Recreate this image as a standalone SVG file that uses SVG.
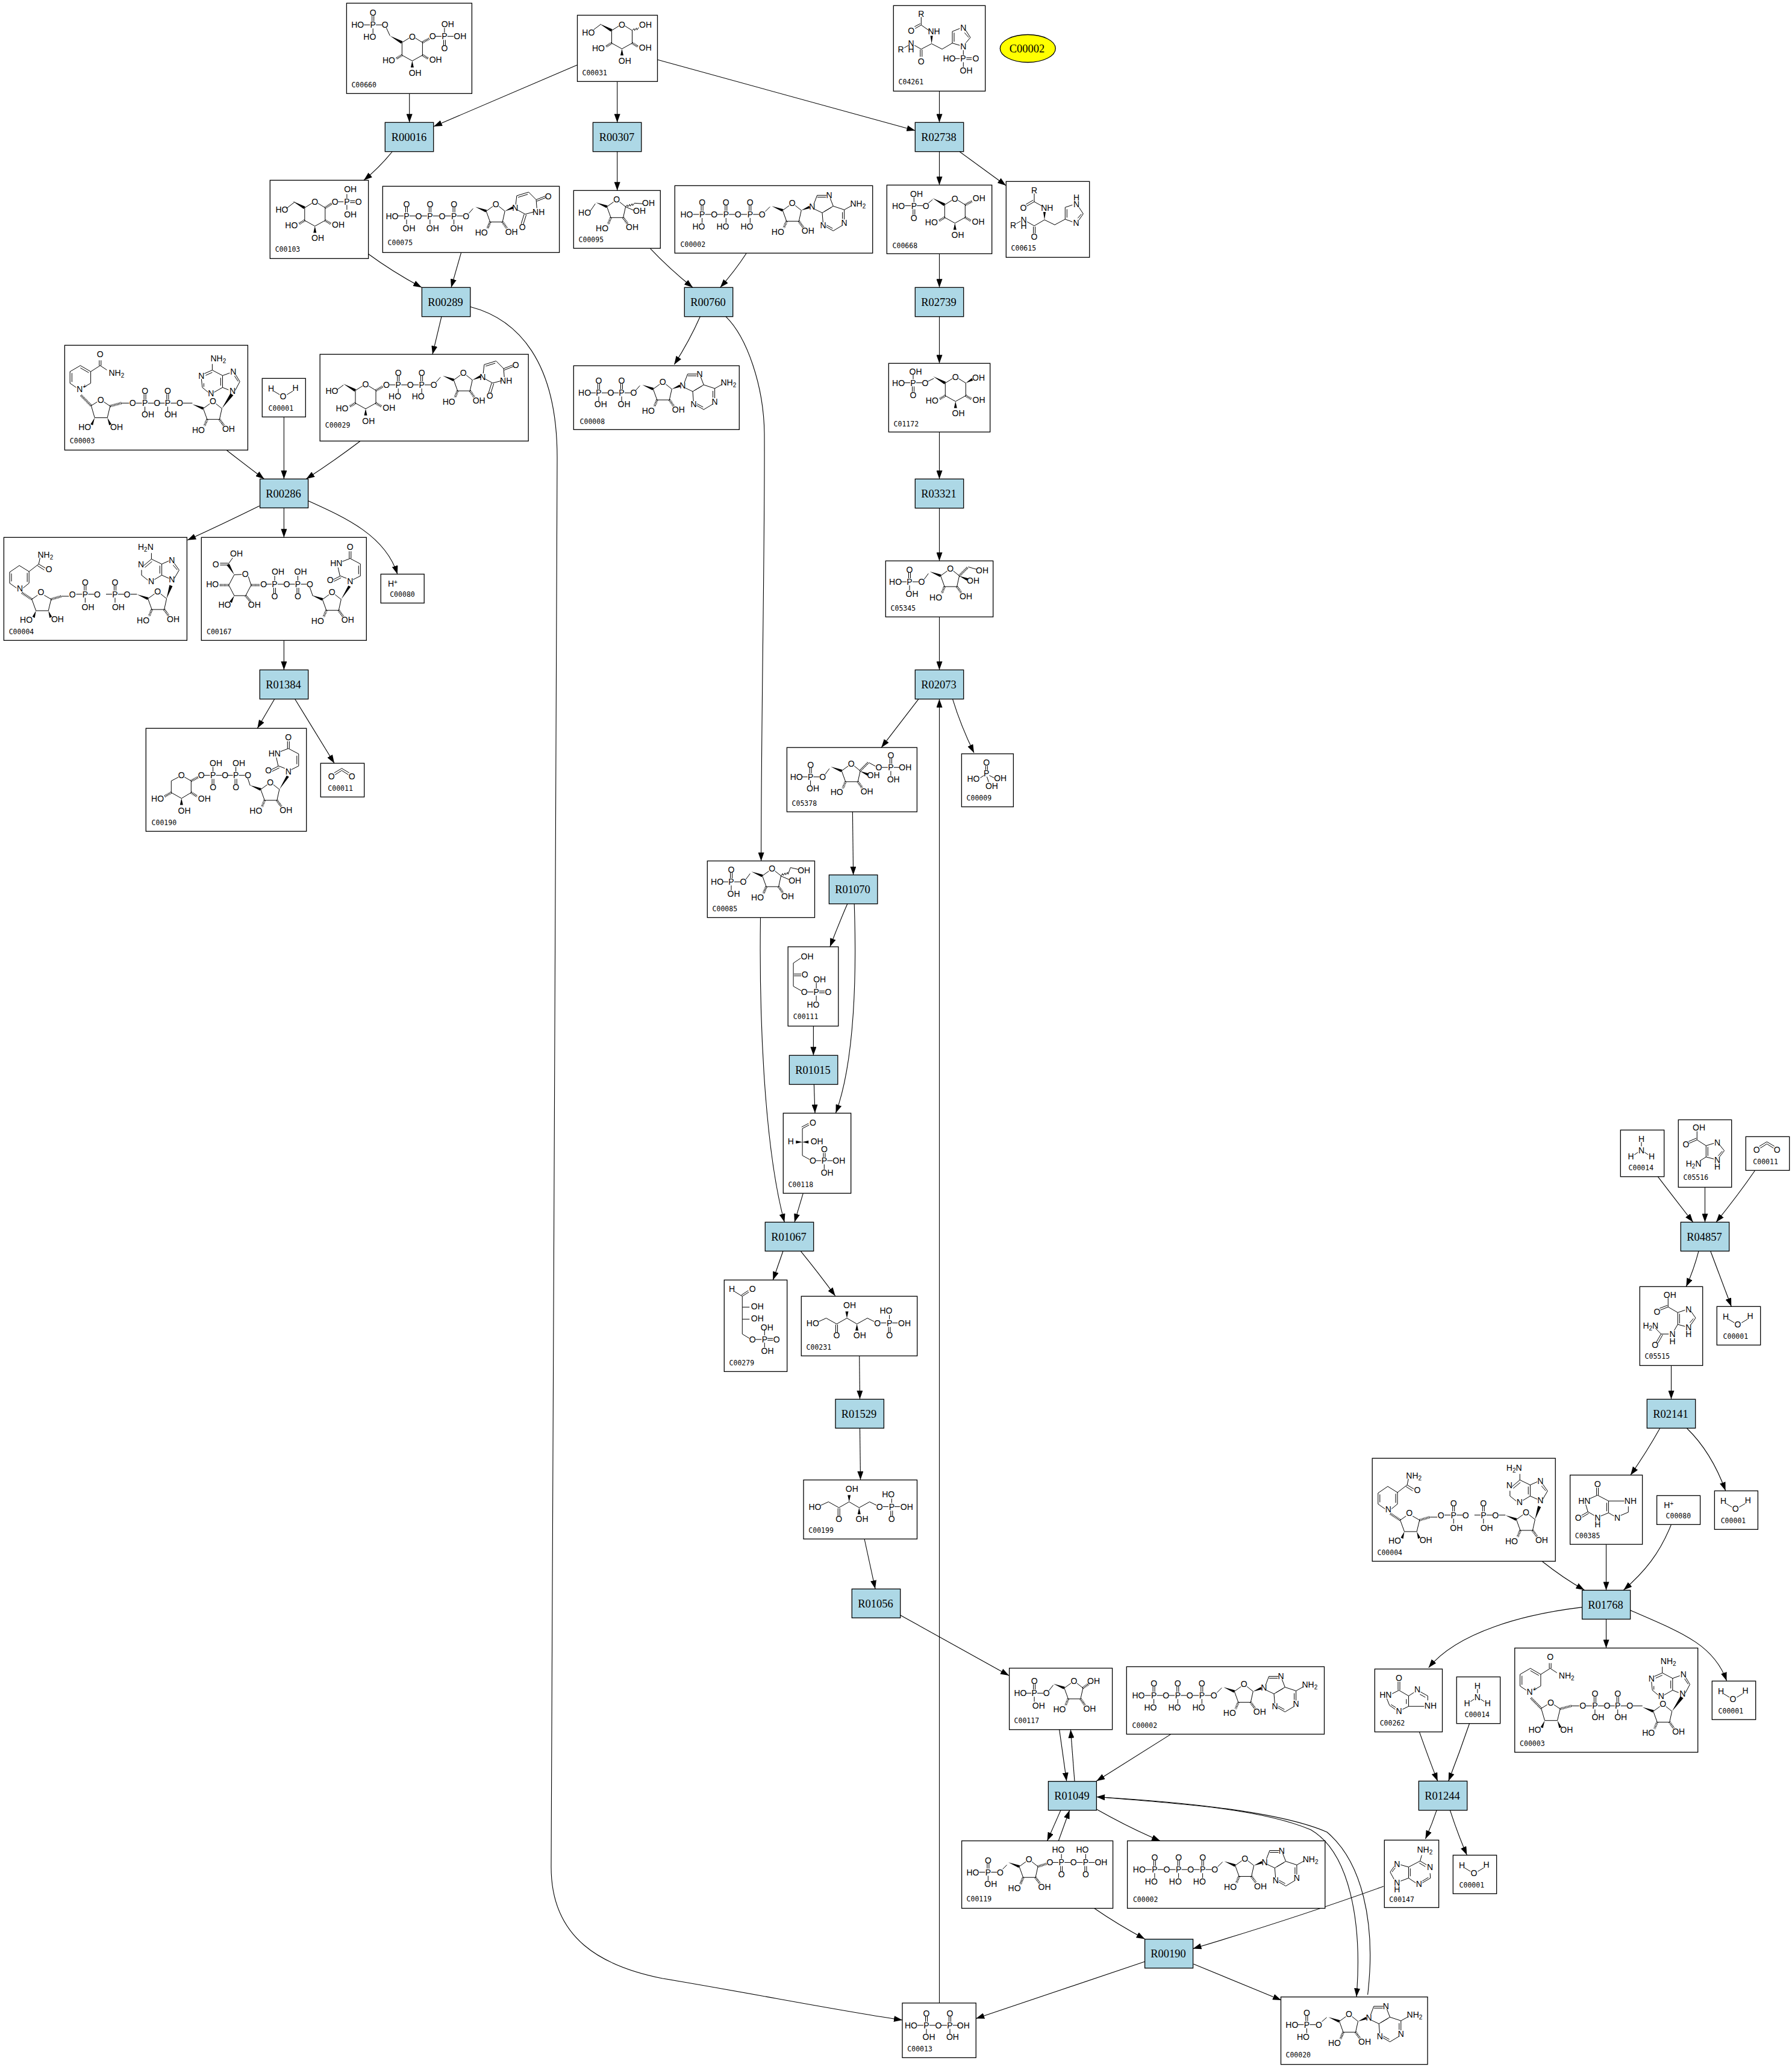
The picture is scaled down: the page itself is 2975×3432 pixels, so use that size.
<svg xmlns="http://www.w3.org/2000/svg" xmlns:xlink="http://www.w3.org/1999/xlink" width="2975" height="3432" viewBox="0 0 2975 3432">
<style>
text{font:14px "Liberation Sans",Arial,sans-serif;text-anchor:middle;fill:#000}
path{fill:none;stroke:#000;stroke-width:1}
.w,.mk{fill:#000;stroke:none}
.h{stroke-width:4;stroke-dasharray:1 1.3}
.s{font-size:10px}
text.l{font:11.5px "DejaVu Sans Mono",monospace;text-anchor:start}
.c>rect{fill:#fff;stroke:#000;stroke-width:1.3}
.r>rect{fill:#add8e6;stroke:#000;stroke-width:1.3}
.r>text,#C00002-key text{font:18.5px "Liberation Serif","Times New Roman",serif}
#edges path{stroke-width:1.1;marker-end:url(#a)}
</style>
<defs>
<marker id="a" markerUnits="userSpaceOnUse" markerWidth="14" markerHeight="10" refX="14" refY="5" orient="auto"><path class="mk" d="M0 0L14 5L0 10z"/></marker>
<g id="pU0"><path d="M-1.5-15V-6M1.5-15V-6M0 6V14M-15 0H-5M5 0H15"/><text y="5">P</text><text y="-15">O</text></g>
<g id="pU"><use href="#pU0"/><text x="20" y="5">O</text></g>
<g id="pD0"><path d="M-1.5 15V6M1.5 15V6M0-6V-14M-15 0H-5M5 0H15"/><text y="5">P</text><text y="25">O</text></g>
<g id="pD"><use href="#pD0"/><text x="20" y="5">O</text></g>
<g id="rib"><path d="M0 0L11-8M21-8L31 0L27 18H6.5L0 0"/><path class="w" d="M-18-7L1-2L-1 2z"/><path class="h" d="M6.5 18L2 29M27 18L34 28"/><text x="16" y="-7">O</text><text x="-8" y="40.5">HO</text><text x="42" y="39">OH</text></g>
<g id="ade"><path d="M3-5L8.3-19H24M8.5-16H23M30-14L35-1L16.7 10M4 4L16.7 10L18 26M35-1L53.3 5V21M50.3 9V20M53.3 5L66-2M50 31L35 40L23 33M34 36L24 30.5M20 8L32 1"/><text y="5">N</text><text x="28.3" y="-14">N</text><text x="53.3" y="31.7">N</text><text x="18.3" y="35.7">N</text><text x="76" y="0">NH<tspan class="s" dy="3">2</tspan></text></g>
<g id="ado"><use href="#rib" x="179" y="41"/><path class="w" d="M210 41L223 33.5L224.5 37.5z"/><use href="#ade" x="228" y="35"/></g>
<g id="pyr"><path d="M0 0L12-7.5M22-7.5L34 0V21L17 30.5L0 21V0"/><path class="w" d="M-20-11L1-2L-1.5 2zM17 30.5L14.5 41.5H19.5z"/><path class="h" d="M0 21L-10 27M34 21L44 27"/><text x="17" y="-5">O</text><text x="-22" y="34.4">HO</text><text x="55.8" y="33.4">OH</text><text x="21.8" y="55.4">OH</text></g>
<g id="urd"><use href="#rib"/><path class="w" d="M31 0L44-8L45.5-4z"/><path d="M49-11L50.7-25.6L70.4-31.6L82.9-19L84-5M53-23L69-28M83-19L98-25M84-16.5L99-22.5M80 1L64.7 5L52-2M63 5L58 21M66.5 6L61.5 22"/><text x="48" y="-.3">N</text><text x="60" y="31">O</text><text x="87" y="6">NH</text><text x="103" y="-20">O</text></g>
<g id="urd2"><use href="#rib"/><path class="w" d="M31 0L43-23L47-21z"/><path d="M40-35L30-39M30-39L18-33M31-36L19-30M29-39L26-53M33-63L46-68M44.5-68V-80M47.5-68V-80M46-68L63-59V-39L51-33M60-56V-42"/><text x="46" y="-25">N</text><text x="13" y="-27">O</text><text x="23" y="-55">HN</text><text x="46" y="-82">O</text></g>
<g id="fru"><use href="#pU" x="39.7" y="34.7"/><text x="16.3" y="39.7">HO</text><text x="43.7" y="59.3">OH</text><path d="M64 30.5L71 21"/><use href="#rib" x="91.3" y="24.7"/></g>
<g id="atp"><use href="#pU" x="45.3" y="47.7"/><use href="#pU" x="85" y="47.7"/><use href="#pU" x="125" y="47.7"/><text x="19.7" y="52.7">HO</text><text x="39.7" y="72.7">HO</text><text x="79.7" y="72.7">HO</text><text x="119.7" y="72.7">HO</text><path d="M150 43L158 35"/><use href="#ado"/><text class="l" x="9.3" y="101.7">C00002</text></g>
<g id="nad"><text x="58.9" y="19.7">O</text><text x="86" y="50.3">NH<tspan class="s" dy="3">2</tspan></text><text x="24.9" y="78">N</text><text class="s" x="33.3" y="72">+</text><text x="59.7" y="95.3">O</text><text x="33.3" y="141">HO</text><text x="86.1" y="141">OH</text><text x="112.9" y="101">O</text><use href="#pU" x="133.2" y="96"/><use href="#pU" x="171" y="96"/><text x="138.2" y="119.7">OH</text><text x="176" y="119.7">OH</text><path d="M57.4 25V33.7M60.4 25V33.7M58.9 33.7L70 41M58.9 33.7L43.2 43.7L26 33.7L8.8 43.7V63L19 70M31 70L43.2 63V43.7M26 37.5L40 45.5M12 46V61M44 100.3L54 94M65 94L75.4 101L70.8 120.3H49.8L44 100.3M94 96H107M196 96H212"/><path class="h" d="M27 83L44 100.3M75.4 101L94 96"/><path class="w" d="M49.8 120.3l-7 11 4 1.5zM70.8 120.3l7 11-4 1.5zM261 105L275 80L280 83z"/><use href="#rib" x="230" y="105"/><text x="278.6" y="81">N</text><text x="280" y="48.7">N</text><text x="243" y="84.3">N</text><text x="227" y="55.3">N</text><text x="255" y="26.3">NH<tspan class="s" dy="3">2</tspan></text><path d="M245 41.3V31M245 41.3L262.1 50.3V70L248 78M259 54V67M238 78L228.5 70L227 56M231 69V63M232 47L245 41.3M234 50L245 45M262.1 50.3L274 46M262 70L272 74M283 75L290.8 60.3L284 49M288 60L282 51"/><text class="l" x="8.4" y="162.7">C00003</text></g>
<g id="nadh"><text x="69" y="33.3">NH<tspan class="s" dy="3">2</tspan></text><text x="74.8" y="57.7">O</text><text x="26.6" y="90">N</text><text x="61.5" y="96">O</text><text x="37.2" y="141.7">HO</text><text x="89" y="141">OH</text><text x="113.9" y="99.3">O</text><use href="#pU" x="135" y="94.3"/><use href="#pU" x="184.6" y="94.3"/><text x="139.6" y="121">OH</text><text x="190" y="121">OH</text><use href="#rib" x="239.2" y="101.7"/><path class="w" d="M270 102L275 79L280 81zM53.3 121.7l-6 10 4 2zM73.9 121.7l6 10-4 2z"/><text x="279" y="74.3">N</text><text x="279" y="42.7">N</text><text x="244.7" y="77.7">N</text><text x="227.7" y="50">N</text><text x="235.5" y="21">H<tspan class="s" dy="3">2</tspan><tspan dy="-3">N</tspan></text><path d="M245 36V26M245 36L262.2 44.3V62.7L250 70M259 47V60M239 71L228.6 62.7V54M232 47L245 36M234 50L246 40M262 44.3L274 39M262.2 62.7L274 68M283 68L291 54.3L283 43M288 54L281 46M57.9 44.3L60 34M57.9 44.3L69 51M56 47L67 54M57.9 44.3L41.8 56.7L25.7 46.7L9.6 57.7V76L21 84M32 84L41.8 76V56.7M38.8 59V74M12.6 60V73M46.4 102.7L56 96M67 96L78.5 102.7L73.9 121.7H53.3L46.4 102.7M95.5 97.7H108M210 94.3H221"/><path class="h" d="M30 92L46.4 102.7M78.5 102.7L95.5 97.7"/><text class="l" x="8.3" y="161">C00004</text></g>
<g id="h2o"><text x="14.7" y="21.7">H</text><text x="34.7" y="34.7">O</text><text x="55.3" y="20.7">H</text><path d="M19 21L29 27M41 27L51 21"/><text class="l" x="10.3" y="53.7">C00001</text></g>
<g id="nh3"><text x="34.7" y="19.7">H</text><text x="34.7" y="38.7">N</text><text x="17.3" y="48.7">H</text><text x="51.7" y="48.7">H</text><path d="M34.7 20V27M29 37L23 41M40 37L46 41"/><text class="l" x="13.3" y="66.7">C00014</text></g>
<g id="co2"><text x="18" y="26.7">O</text><text x="52" y="26.7">O</text><path d="M24 19L35 12L46 19M22.5 16L35 8.5L47.5 16"/><text class="l" x="12" y="45.7">C00011</text></g>
<g id="hp"><text x="19.7" y="21">H<tspan class="s" dy="-4">+</tspan></text><text class="l" x="15" y="38">C00080</text></g>
<g id="xu"><text x="19" y="49.3">HO</text><text x="58.7" y="69.3">O</text><text x="80.3" y="19.3">OH</text><text x="97" y="69.3">OH</text><text x="126.3" y="49.3">O</text><text x="146.3" y="49.3">P</text><text x="171.3" y="49.3">OH</text><text x="140.7" y="28.7">HO</text><text x="146.3" y="69.3">O</text><path d="M29 42L41.3 36.3L58.7 46L75.7 36.3L92.3 46L109.7 36.3L121 42M57.2 47V60M60.2 47V60M132 44.3H141M151 44.3H160M146.3 38V31M144.8 51V60M147.8 51V60"/><path class="w" d="M75.7 36.3l-2.5-11h5zM92.3 46l-2.5 11h5z"/></g>
</defs>

<g id="edges">
<path d="M679.7 155.3V203.3"/>
<path d="M958 108L720 210"/>
<path d="M1024.7 135.3V203.3"/>
<path d="M1092 99.3L1519.3 216.7"/>
<path d="M1559.5 151.3V203.3"/>
<path d="M651 252Q630 278 604 299.3"/>
<path d="M1024.7 251.7V316.3"/>
<path d="M1559.5 251.7V307.3"/>
<path d="M1593.3 252L1670 308"/>
<path d="M611.6 421.7Q650 450 700 477.3"/>
<path d="M765.6 419.3L749 477.3"/>
<path d="M1079.3 412.3Q1110 445 1150 477.3"/>
<path d="M1239.3 420.3Q1220 450 1195.7 477.3"/>
<path d="M1162.3 525.7Q1145 565 1119.3 605.3"/>
<path d="M1205 525.7C1240 560 1268 640 1269 720C1270 900 1263.5 1200 1263.6 1429.5"/>
<path d="M780.4 509.3C860 530 925 600 925 760C925 1200 915 2700 915 3100C915 3220 1000 3265 1100 3285C1250 3310 1400 3340 1498 3354"/>
<path d="M376.5 747.7Q405 770 438.5 795.3"/>
<path d="M471.4 692.3V795.3"/>
<path d="M598.2 732.3Q555 765 508.3 795.3"/>
<path d="M733 525.7L718 588.3"/>
<path d="M430.7 840Q370 870 311.3 896.7"/>
<path d="M471.4 843.3V892.3"/>
<path d="M512 831.7C575 860 640 890 659.8 953.3"/>
<path d="M471.4 1063.3V1112.3"/>
<path d="M455.7 1160.7L427.3 1209.3"/>
<path d="M489.7 1160.7L555 1267.3"/>
<path d="M1559.5 421.3V477.3"/>
<path d="M1559.5 525.7V603.3"/>
<path d="M1559.5 717.3V795.3"/>
<path d="M1559.5 843.7V931.3"/>
<path d="M1559.5 1024.3V1112.3"/>
<path d="M1525 1160.7L1463.2 1241.2"/>
<path d="M1581.5 1160.7Q1595 1205 1617 1250"/>
<path d="M1415.4 1347.9L1416.6 1452.7"/>
<path d="M1407 1500.3Q1392 1535 1377.9 1572"/>
<path d="M1418.2 1500.3C1422 1610 1420 1760 1387.5 1848"/>
<path d="M1350.4 1703.7V1752.3"/>
<path d="M1351.4 1800.5L1353 1848"/>
<path d="M1262.5 1523.4C1260 1700 1270 1910 1302.3 2029.3"/>
<path d="M1333.3 1981.3L1319 2029.3"/>
<path d="M1300 2077.3L1283.3 2125.3"/>
<path d="M1329.3 2077.3Q1360 2115 1386.7 2151.7"/>
<path d="M1426.7 2251.3L1427.5 2323"/>
<path d="M1427.5 2371L1428.5 2457"/>
<path d="M1435 2555L1453 2638"/>
<path d="M1495 2682L1675 2782"/>
<path d="M1758.7 2871.8L1770.7 2957.3"/>
<path d="M1784 2957.7L1777.4 2871.8"/>
<path d="M1944 2879.4Q1880 2920 1820.3 2957.3"/>
<path d="M1761 3005.6L1738.6 3056.5"/>
<path d="M1757.3 3056.5L1775.6 3005.8"/>
<path d="M1820.3 3004Q1875 3035 1926 3056.5"/>
<path d="M1816.7 3168.5Q1855 3195 1900.6 3219.4"/>
<path d="M2297 3132Q2150 3185 1980.5 3235.5"/>
<path d="M1900.6 3256.9L1620.3 3351.6"/>
<path d="M1981.4 3260.9L2127 3321"/>
<path d="M1821 2983.5C1950 2994 2090 3002 2176 3038C2240 3075 2262 3190 2252 3315.3"/>
<path d="M2270.6 3312C2285 3190 2260 3090 2203 3042C2130 3010 1980 2993 1820.3 2983.5"/>
<path d="M2752.3 1953.7Q2780 1990 2810.7 2029.3"/>
<path d="M2830.5 1971.3V2029.3"/>
<path d="M2913.7 1943.3Q2885 1985 2849 2029.3"/>
<path d="M2820 2077.3Q2812 2108 2799.3 2136.3"/>
<path d="M2839.7 2077.3L2874.3 2169.3"/>
<path d="M2774.5 2267.3V2323"/>
<path d="M2756 2371Q2733 2412 2706.9 2449.2"/>
<path d="M2800 2371C2830 2400 2850 2435 2864.6 2475"/>
<path d="M2560 2592.2Q2595 2620 2630.3 2640"/>
<path d="M2666.5 2564.3V2640.4"/>
<path d="M2774.4 2531.5C2755 2580 2730 2610 2695.5 2640"/>
<path d="M2626.6 2668.6C2530 2680 2420 2710 2371.7 2769"/>
<path d="M2666.5 2688.6V2736.4"/>
<path d="M2706.9 2673.8C2790 2710 2845 2730 2866.5 2790.8"/>
<path d="M2356.4 2875.6Q2372 2920 2386.7 2957.3"/>
<path d="M2439.5 2861.8Q2423 2910 2404.7 2957.3"/>
<path d="M2385.1 3005.7Q2377 3030 2366.4 3053.3"/>
<path d="M2407.3 3005.7Q2420 3045 2435.3 3080"/>
<path d="M1559.5 3325.8V1160.7"/>
</g>

<g id="n-C00660" class="c" transform="translate(575.4 5.3)"><rect width="208" height="150"/><use href="#pU" x="43.8" y="36"/><text x="18.3" y="41">HO</text><text x="38.4" y="61">HO</text><path d="M66 41L72 54"/><use href="#pyr" x="92" y="65.3"/><path class="h" d="M126 65L137 59"/><text x="142.9" y="60">O</text><use href="#pD0" x="162.5" y="55"/><text x="188.4" y="60">OH</text><text x="167.9" y="40">OH</text><text class="l" x="8" y="140">C00660</text></g>
<g id="n-C00031" class="c" transform="translate(958.5 25.3)"><rect width="133" height="110"/><use href="#pyr" x="57" y="25.3"/><text x="18.3" y="33.7">HO</text><path d="M27 24L39 15M91 25.3l3-3 1 3 3-4 1 3 3-4"/><text x="113" y="21">OH</text><text class="l" x="8" y="99.7">C00031</text></g>
<g id="n-C04261" class="c" transform="translate(1483.3 9.3)"><rect width="152.4" height="142"/><text x="46" y="18.3">R</text><text x="29.3" y="46.7">O</text><text x="67.3" y="47.3">NH</text><text x="29.3" y="67.3">N</text><text x="29.3" y="77.3">H</text><text x="12.3" y="77.3">R</text><text x="46" y="97.3">O</text><text x="116" y="41.3">N</text><text x="116" y="73">N</text><text x="92.7" y="93">HO</text><text x="115.7" y="93">P</text><text x="136.7" y="93">O</text><text x="120.7" y="113">OH</text><path d="M46 19V32.3L36 38M44.5 30L35 35M46 32.3L60 42M63.3 63.3L46 72.3M44.5 73V85M47.5 73V85M46 72.3L35 66M18 70L25 66M63.3 63.3L80.7 72.3L97.7 62.3V43L110 38M100.7 60V45M120 41L127.7 53L120 62M125 53L118 45M110 66L97.7 62.3M116 74V82M102 88H110M121 86.5H130M121 89.5H130M116 94V102"/><path class="w" d="M63.3 63.3l-2-13h4z"/><text class="l" x="8.3" y="130.7">C04261</text></g>
<g id="C00002-key"><ellipse cx="1706.3" cy="80.5" rx="46" ry="23" fill="#ffff00" stroke="#000" stroke-width="1.3"/><text x="1705" y="87">C00002</text></g>
<g id="n-R00016" class="r"><rect x="639.3" y="203.3" width="80.4" height="48.4"/><text x="679" y="233.5">R00016</text></g>
<g id="n-R00307" class="r"><rect x="984.4" y="203.3" width="80.4" height="48.4"/><text x="1024" y="233.5">R00307</text></g>
<g id="n-R02738" class="r"><rect x="1519.3" y="203.3" width="80.4" height="48.4"/><text x="1558.5" y="233.5">R02738</text></g>
<g id="n-C00103" class="c" transform="translate(448.3 299.3)"><rect width="163.3" height="130"/><use href="#pyr" x="57.5" y="45.7"/><text x="19.6" y="53.3">HO</text><path d="M27 47L41 36M113 35.7H122M133 34.2H141M133 37.2H141M127.6 30V23M127.6 41V49"/><path class="h" d="M91.5 45.7L102 39"/><text x="108" y="40.7">O</text><text x="127.6" y="40.7">P</text><text x="146.8" y="40.7">O</text><text x="133.4" y="19.7">OH</text><text x="133.4" y="61.7">OH</text><text class="l" x="8.4" y="119">C00103</text></g>
<g id="n-C00075" class="c" transform="translate(635.3 309.3)"><rect width="293.3" height="110"/><use href="#pU" x="39.7" y="49.3"/><use href="#pU" x="78.6" y="49.3"/><use href="#pU" x="118.3" y="49.3"/><text x="15.6" y="54.3">HO</text><text x="43.7" y="74.3">OH</text><text x="83" y="74.3">OH</text><text x="122.8" y="74.3">OH</text><path d="M143 45L150 37"/><use href="#urd" x="171.9" y="41.3"/><text class="l" x="8.3" y="98">C00075</text></g>
<g id="n-C00095" class="c" transform="translate(952.3 316.3)"><rect width="144" height="96"/><use href="#rib" x="55.3" y="27"/><text x="18.3" y="42">HO</text><path d="M27 35L36 22M86 27L100 33M86 27l3-3 1 3 3-4 1 3 3-4 1 3 3-4L115 22"/><text x="109.3" y="38.7">OH</text><text x="124.3" y="26">OH</text><text class="l" x="8.3" y="85.3">C00095</text></g>
<g id="n-C00002-a" class="c" transform="translate(1120.3 308.3)"><rect width="328.4" height="112"/><use href="#atp"/></g>
<g id="n-C00668" class="c" transform="translate(1472.3 307.3)"><rect width="174.4" height="114"/><use href="#pyr" x="96" y="32.7"/><use href="#pD" x="45" y="34.3"/><text x="19.3" y="39.3">HO</text><text x="49.3" y="19.7">OH</text><path d="M69 30L76 24"/><path class="h" d="M130 33L141 27"/><text x="153" y="26.7">OH</text><text class="l" x="9.3" y="104.7">C00668</text></g>
<g id="n-C00615" class="c" transform="translate(1670.3 301.3)"><rect width="138.4" height="126"/><text x="46.7" y="19.3">R</text><text x="28.7" y="49">O</text><text x="68" y="49">NH</text><text x="29.3" y="68.7">N</text><text x="29.3" y="78.7">H</text><text x="11.7" y="77.7">R</text><text x="46.7" y="97">O</text><text x="116.7" y="43">N</text><text x="116.7" y="32">H</text><text x="116.3" y="73.7">N</text><path d="M46.7 20V33.7L34 41M45 31L33 38M46.7 33.7L60 41M63.7 63.7L46.7 73.7M45.2 75V86M48.2 75V86M46.7 73.7L35 67M17 70L24 66M63.7 63.7L80.7 72L98 62.7V43L110 39M101 60V46M121 43L128 53.7L121 64M125 54L119 61M110 67L98 62.7"/><path class="w" d="M63.7 63.7l-2-13h4z"/><text class="l" x="8.3" y="114.7">C00615</text></g>
<g id="n-R00289" class="r"><rect x="700.4" y="477.3" width="80.4" height="48.4"/><text x="739.5" y="507.5">R00289</text></g>
<g id="n-R00760" class="r"><rect x="1136.3" y="477.3" width="80.4" height="48.4"/><text x="1175.5" y="507.5">R00760</text></g>
<g id="n-R02739" class="r"><rect x="1519.3" y="477.3" width="80.4" height="48.4"/><text x="1558.5" y="507.5">R02739</text></g>
<g id="n-C00003-a" class="c" transform="translate(107.4 573.3)"><rect width="304" height="174"/><use href="#nad"/></g>
<g id="n-C00001-a" class="c" transform="translate(435.3 628.3)"><rect width="72" height="64"/><use href="#h2o"/></g>
<g id="n-C00029" class="c" transform="translate(531.2 588.3)"><rect width="346" height="144"/><use href="#pyr" x="58.8" y="60"/><text x="19.7" y="65.7">HO</text><path d="M28 59L39 51M193 46L200 38"/><path class="h" d="M93 60L105 53"/><text x="110.2" y="55.7">O</text><use href="#pU" x="130" y="50.7"/><use href="#pU" x="168.9" y="50.7"/><text x="124.4" y="75">HO</text><text x="163" y="75">HO</text><use href="#urd" x="222" y="42.7"/><text class="l" x="8.6" y="122">C00029</text></g>
<g id="n-C00008" class="c" transform="translate(952.3 607.3)"><rect width="275" height="106"/><use href="#pU" x="41.7" y="45"/><use href="#pU" x="79.7" y="45"/><text x="18.3" y="50">HO</text><text x="45" y="68.7">OH</text><text x="83.7" y="68.7">OH</text><path d="M103 41L110 33"/><use href="#ado" transform="translate(-47 -2.3)"/><text class="l" x="10.3" y="96.7">C00008</text></g>
<g id="n-C01172" class="c" transform="translate(1475.3 603.3)"><rect width="168.4" height="114"/><use href="#pyr" x="94" y="32.7"/><use href="#pD" x="40.7" y="32.3"/><text x="16.3" y="37.3">HO</text><text x="44.7" y="18.3">OH</text><path d="M65 30L75 25"/><path class="w" d="M128 32.7L138 24.5L140 28.5z"/><text x="149.3" y="28.3">OH</text><text class="l" x="8.3" y="105">C01172</text></g>
<g id="n-R00286" class="r"><rect x="431.6" y="795.3" width="80" height="48"/><text x="470.5" y="825.5">R00286</text></g>
<g id="n-R03321" class="r"><rect x="1519.3" y="795.3" width="80.4" height="48.4"/><text x="1558.5" y="825.5">R03321</text></g>
<g id="n-C00004-a" class="c" transform="translate(6.4 892.3)"><rect width="304" height="171"/><use href="#nadh"/></g>
<g id="n-C00167" class="c" transform="translate(334.3 892.3)"><rect width="274" height="171"/><text x="58.2" y="32">OH</text><text x="24" y="49.3">O</text><text x="73" y="66">O</text><text x="18.4" y="82.7">HO</text><text x="38.6" y="116.7">HO</text><text x="88" y="116.7">OH</text><text x="103.3" y="82.7">O</text><use href="#pD" x="121.7" y="77.7"/><use href="#pD" x="160.2" y="77.7"/><text x="127.2" y="61.7">OH</text><text x="164.8" y="61.7">OH</text><path d="M44.5 44.3L52 34M44.5 42.8H31M44.5 45.8H31M78 65L82.6 79.3L73.5 96.7H54.6L45.5 79.3L54.6 62L67 61.5M180 83L185 97"/><path class="w" d="M54.6 62L42 46L46.5 44zM54.6 96.7l-8 10 4 2z"/><path class="h" d="M45.5 79.3H30M73.5 96.7L82 107M82.6 79.3H97"/><use href="#urd2" x="201" y="103"/><text class="l" x="8.7" y="161">C00167</text></g>
<g id="n-C00080-a" class="c" transform="translate(632.2 953.3)"><rect width="72" height="48"/><use href="#hp"/></g>
<g id="n-C05345" class="c" transform="translate(1470.3 931.3)"><rect width="178.4" height="93"/><use href="#fru"/><text x="145.3" y="37.3">OH</text><text x="160.3" y="21">OH</text><path class="w" d="M122 25L137 29L135 33z"/><path class="h" d="M122 25L136 11"/><path d="M137 10L151 14"/><text class="l" x="8.3" y="82.7">C05345</text></g>
<g id="n-R01384" class="r"><rect x="431.3" y="1112.3" width="80.4" height="48.4"/><text x="470.5" y="1142.5">R01384</text></g>
<g id="n-R02073" class="r"><rect x="1519.3" y="1112.3" width="80.4" height="48.4"/><text x="1558.5" y="1142.5">R02073</text></g>
<g id="n-C00190" class="c" transform="translate(242.3 1209.3)"><rect width="266.4" height="171"/><path d="M42 87.3L54 81M64 81L75 87.3V106.7L59 116.3L42 106.7V87.3M169 83L173 95"/><text x="59" y="83">O</text><text x="19.3" y="121.3">HO</text><text x="97" y="121.3">OH</text><text x="63.7" y="141.7">OH</text><path class="h" d="M42 106.7L31 113M75 106.7L85 113M75 87.3L87 81"/><path class="w" d="M59 116.3l-2.5 11h5z"/><text x="92" y="83">O</text><use href="#pD" x="111.3" y="78"/><use href="#pD" x="149.3" y="78"/><text x="116.3" y="62.3">OH</text><text x="154.3" y="62.3">OH</text><use href="#urd2" x="190.5" y="101.5"/><text class="l" x="9.3" y="160.7">C00190</text></g>
<g id="n-C00011-a" class="c" transform="translate(532.3 1267.3)"><rect width="72.4" height="56"/><use href="#co2"/></g>
<g id="n-C05378" class="c" transform="translate(1306.4 1241.2)"><rect width="216" height="106.7"/><use href="#fru" transform="translate(-.5 14)"/><path class="w" d="M121 39L136 43L134 47z"/><path class="h" d="M121 39L135 25"/><path d="M136 25L147 31"/><text x="143.6" y="50.8">OH</text><text x="152.5" y="38">O</text><use href="#pU0" x="172.5" y="33"/><text x="196.4" y="38">OH</text><text x="176.8" y="57.9">OH</text><text class="l" x="8.2" y="96.5">C05378</text></g>
<g id="n-C00009" class="c" transform="translate(1596.4 1251.6)"><rect width="86" height="88"/><text x="41.4" y="19.2">O</text><text x="41.4" y="37">P</text><text x="19.6" y="46.5">HO</text><text x="64.3" y="45.6">OH</text><text x="50" y="58.3">OH</text><path d="M40 20V27M43 20V27M31 40L37 36M46 36L54 40M42 38L45 47"/><text class="l" x="8.2" y="77">C00009</text></g>
<g id="n-C00085" class="c" transform="translate(1174.3 1429.5)"><rect width="178.2" height="94"/><use href="#fru"/><path d="M122 25L136 31M122 25l3-4 1 3 3-4 1 3 3-4 1 3L138 11L151 14"/><text x="145.4" y="37">OH</text><text x="160.4" y="20.6">OH</text><text class="l" x="8.3" y="83">C00085</text></g>
<g id="n-R01070" class="r"><rect x="1376.4" y="1452.7" width="80.4" height="48"/><text x="1415.5" y="1482.7">R01070</text></g>
<g id="n-C00111" class="c" transform="translate(1308.2 1572)"><rect width="83.6" height="131.7"/><text x="31.8" y="21">OH</text><text x="27.9" y="51.2">O</text><text x="27.1" y="80">O</text><text x="47.1" y="80">P</text><text x="66.8" y="80">O</text><text x="52.5" y="59">OH</text><text x="41.8" y="101.3">HO</text><path d="M9 27L21 19M8.9 27V65.6M10 45.2H22M10 48.2H22M8.9 65.6L22 73M32 75H42M52 73.5H61M52 76.5H61M47 69V60M47 81V90"/><text class="l" x="8.6" y="119.6">C00111</text></g>
<g id="n-R01015" class="r"><rect x="1310.4" y="1752.3" width="80.4" height="48.2"/><text x="1349.5" y="1782.5">R01015</text></g>
<g id="n-C00118" class="c" transform="translate(1300.3 1848.3)"><rect width="112.4" height="133"/><text x="49.1" y="21">O</text><text x="12.5" y="52.2">H</text><text x="55.9" y="52.2">OH</text><text x="49.1" y="83.8">O</text><text x="68.2" y="83.8">P</text><text x="68.2" y="65">O</text><text x="92.5" y="83.8">OH</text><text x="72.9" y="103.6">OH</text><path d="M31.8 25.5L43 19.5M30.5 23L42 17M31.8 25.5V70.3L44 77M54 78.8H63M66.7 73V66M69.7 73V66M73 78.8H82M68 85V93"/><path class="w" d="M31.8 48L21 45.5V50.5zM31.8 48L42 45.5V50.5z"/><text class="l" x="8.3" y="123">C00118</text></g>
<g id="n-R01067" class="r"><rect x="1270.3" y="2029.3" width="80.4" height="48"/><text x="1309.5" y="2059.5">R01067</text></g>
<g id="n-C00279" class="c" transform="translate(1202.3 2125.3)"><rect width="104.4" height="152"/><text x="12.7" y="19.7">H</text><text x="47" y="19.7">O</text><text x="55" y="48.7">OH</text><text x="55" y="68.7">OH</text><text x="47" y="103.7">O</text><text x="67" y="103.7">P</text><text x="87" y="103.7">O</text><text x="71" y="83.7">OH</text><text x="71.7" y="123">OH</text><path d="M17 19L30 27M30 27L41 20M28.5 25L40 17.5M30 27V89.7L42 97M30 45H42M30 65H42M52 98.7H62M72 97H81M72 100H81M67 82V92M67 104V112"/><text class="l" x="8.3" y="141.7">C00279</text></g>
<g id="n-C00231" class="c" transform="translate(1330.3 2152.3)"><rect width="192.4" height="99"/><use href="#xu"/><text class="l" x="8.3" y="88.7">C00231</text></g>
<g id="n-R01529" class="r"><rect x="1387" y="2323.3" width="80.4" height="48"/><text x="1426" y="2353.5">R01529</text></g>
<g id="n-C00199" class="c" transform="translate(1334 2457.3)"><rect width="188.5" height="98"/><use href="#xu"/><text class="l" x="8.3" y="88">C00199</text></g>
<g id="n-R01056" class="r"><rect x="1414.3" y="2638.3" width="80.4" height="48"/><text x="1453.5" y="2668.5">R01056</text></g>
<g id="n-C00117" class="c" transform="translate(1675.6 2769.8)"><rect width="171" height="102"/><use href="#pU" x="41.5" y="41.5"/><text x="18.3" y="46.5">HO</text><text x="48.7" y="67.5">OH</text><path d="M66 37L73 28"/><use href="#rib" x="91.3" y="33"/><path class="h" d="M122 33L132 26"/><text x="140" y="26">OH</text><text class="l" x="8" y="91.5">C00117</text></g>
<g id="n-C00002-b" class="c" transform="translate(1870.3 2767.4)"><rect width="328.2" height="112"/><use href="#atp"/></g>
<g id="n-R01049" class="r"><rect x="1740.4" y="2957.7" width="80" height="48"/><text x="1779.5" y="2987.7">R01049</text></g>
<g id="n-C00119" class="c" transform="translate(1596.6 3056.5)"><rect width="251" height="112"/><use href="#pU" x="43.8" y="52"/><text x="18.3" y="57">HO</text><text x="48.2" y="76.4">OH</text><path d="M68 47L75 40"/><use href="#rib" x="95.5" y="42.7"/><path class="h" d="M126.5 42.7L141 38"/><text x="146.4" y="40.9">O</text><use href="#pD" x="165.6" y="35.9"/><use href="#pD0" x="205.8" y="35.9"/><text x="231.3" y="40.9">OH</text><text x="160.3" y="19.9">HO</text><text x="200.4" y="19.9">HO</text><text class="l" x="8" y="100.8">C00119</text></g>
<g id="n-C00002-c" class="c" transform="translate(1871.6 3056.5)"><rect width="328.2" height="112"/><use href="#atp"/></g>
<g id="n-R00190" class="r"><rect x="1900.6" y="3219.8" width="80" height="48"/><text x="1939.5" y="3249.8">R00190</text></g>
<g id="n-C00013" class="c" transform="translate(1498 3325.8)"><rect width="122.3" height="90.7"/><use href="#pU" x="40" y="37"/><use href="#pU0" x="79" y="37"/><text x="14.5" y="42">HO</text><text x="101.3" y="42">OH</text><text x="44" y="61">OH</text><text x="83.4" y="61">OH</text><text class="l" x="8.3" y="80">C00013</text></g>
<g id="n-C00020" class="c" transform="translate(2126.5 3315.7)"><rect width="243.5" height="112"/><use href="#pU" x="42.9" y="46"/><text x="18.3" y="51">HO</text><text x="37" y="71">HO</text><path d="M68 41L76 34"/><use href="#ado" transform="translate(-82 -.5)"/><text class="l" x="8" y="100.4">C00020</text></g>
<g id="n-C00014-a" class="c" transform="translate(2690.3 1876.3)"><rect width="72.4" height="77.4"/><use href="#nh3"/></g>
<g id="n-C05516" class="c" transform="translate(2786.3 1859.3)"><rect width="88.4" height="112"/><text x="34.3" y="18">OH</text><text x="12.7" y="46">O</text><text x="64.7" y="42.3">N</text><text x="64.7" y="71.7">N</text><text x="64.7" y="83">H</text><text x="25.3" y="77.7">H<tspan class="s" dy="3">2</tspan><tspan dy="-3">N</tspan></text><path d="M31 19V33.3L18 39M30 30.5L17 36M31 33.3L46 43M46 43V61.7M49 45V60M46 43L59 39M68 41L76.3 51.3L68 62M73 52L66 60M46 61.7L59 65M46 61.7L36 68"/><text class="l" x="8.3" y="99.7">C05516</text></g>
<g id="n-C00011-b" class="c" transform="translate(2898.3 1887.3)"><rect width="72.4" height="56"/><use href="#co2"/></g>
<g id="n-R04857" class="r"><rect x="2790.3" y="2029.3" width="80.4" height="48"/><text x="2829.5" y="2059.5">R04857</text></g>
<g id="n-C05515" class="c" transform="translate(2722.3 2136.3)"><rect width="104.4" height="131"/><text x="50" y="18.3">OH</text><text x="28.7" y="46.3">O</text><text x="81" y="42.7">N</text><text x="81" y="73">N</text><text x="81" y="83.7">H</text><text x="54.3" y="83.7">N</text><text x="54.3" y="95.3">H</text><text x="25.3" y="102">O</text><text x="18" y="69.3">H<tspan class="s" dy="3">2</tspan><tspan dy="-3">N</tspan></text><path d="M47 19V33.7L34 39M46 31L33 36M47 33.7L63 43V62.7M66 45V61M63 43L75 39M85 41L92.7 52L85 63M89 53L83 60M63 62.7L75 66M63 62.7L57 73M48 78.7H35.3M35.3 78.7L27 93M38 80L30 94M35.3 78.7L26 69"/><text class="l" x="8.3" y="119.7">C05515</text></g>
<g id="n-C00001-b" class="c" transform="translate(2850.3 2169.3)"><rect width="72.4" height="64"/><use href="#h2o"/></g>
<g id="n-R02141" class="r"><rect x="2734.3" y="2323.3" width="80.4" height="48"/><text x="2773.5" y="2353.5">R02141</text></g>
<g id="n-C00004-b" class="c" transform="translate(2278.2 2421.3)"><rect width="304" height="171"/><use href="#nadh"/></g>
<g id="n-C00385" class="c" transform="translate(2606.6 2449.2)"><rect width="120" height="115"/><text x="45.6" y="19.8">O</text><text x="23.7" y="48">HN</text><text x="13.7" y="75.6">O</text><text x="45.6" y="76.3">N</text><text x="45.6" y="87.3">H</text><text x="78.5" y="76.3">N</text><text x="100.3" y="48">NH</text><path d="M44 21V33.4M47 21V33.4M45.6 33.4L33 39M45.6 33.4L63.8 43H90M26 49L29.6 61L40 67M29.6 61L19 67M31 63.5L20 70M51 68L63.8 62.7V43M60.8 60V46M63.8 62.7L73 68M84 67L96.7 61.6V52"/><text class="l" x="8.2" y="104.9">C00385</text></g>
<g id="n-C00080-b" class="c" transform="translate(2750.6 2483.3)"><rect width="72" height="48"/><use href="#hp"/></g>
<g id="n-C00001-c" class="c" transform="translate(2846.4 2475.4)"><rect width="72" height="64"/><use href="#h2o"/></g>
<g id="n-R01768" class="r"><rect x="2626.6" y="2640.4" width="80" height="48"/><text x="2665.5" y="2670.5">R01768</text></g>
<g id="n-C00262" class="c" transform="translate(2282.3 2771.2)"><rect width="112.2" height="104.4"/><text x="40.2" y="19.7">O</text><text x="18" y="48">HN</text><text x="40.2" y="75.3">N</text><text x="70.8" y="38.7">N</text><text x="92.6" y="65.7">NH</text><path d="M38.7 21V35M41.7 21V35M40.2 35.3L29 41M40.2 35.3L56.2 44.7L65 39M20 49L24.5 60.3L34 67M27 59L35 64M46 67L56.2 62V44.7M52.5 50V58M56.2 62H82M76 38L88 44.7V52M75 42L84 47"/><text class="l" x="8.4" y="93.7">C00262</text></g>
<g id="n-C00014-b" class="c" transform="translate(2418.2 2784.3)"><rect width="72.4" height="77.4"/><use href="#nh3"/></g>
<g id="n-C00003-b" class="c" transform="translate(2514.7 2736.4)"><rect width="304" height="173"/><use href="#nad"/></g>
<g id="n-C00001-d" class="c" transform="translate(2842.3 2791.2)"><rect width="72.4" height="64"/><use href="#h2o"/></g>
<g id="n-R01244" class="r"><rect x="2355.3" y="2957.3" width="80.4" height="48.4"/><text x="2394.5" y="2987.5">R01244</text></g>
<g id="n-C00147" class="c" transform="translate(2298.3 3055.3)"><rect width="90.3" height="112"/><text x="67" y="20.3">NH<tspan class="s" dy="3">2</tspan></text><text x="75.8" y="49.7">N</text><text x="57.4" y="78">N</text><text x="21" y="44.7">N</text><text x="21" y="75.3">N</text><text x="21" y="87">H</text><path d="M59.3 34.7L62 25M59.3 34.7L70 41M58 38L68 44M75.8 55L76.5 63L63 71M73 62L63 68M52 71L40.2 63V44.7L59.3 34.7M43 60V47M40.2 44.7L27 41M16 44L9.6 53L16 65M12.6 53L18 46M27 68L40.2 63"/><text class="l" x="8" y="103">C00147</text></g>
<g id="n-C00001-e" class="c" transform="translate(2412.3 3080.3)"><rect width="72.3" height="64"/><use href="#h2o"/></g>
</svg>
